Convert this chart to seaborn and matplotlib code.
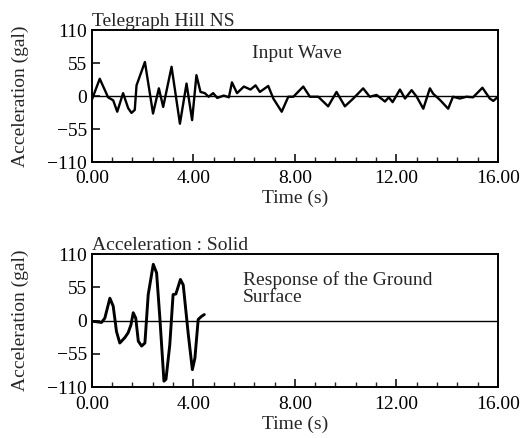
import numpy as np
import pandas as pd
import seaborn as sb
import matplotlib
matplotlib.use("Agg")
import matplotlib.pyplot as plt
from matplotlib.ticker import MultipleLocator

# input wave (Telegraph Hill NS)
t_input = [0.00, 0.31, 0.64, 0.84, 1.00, 1.23, 1.43, 1.56, 1.69, 1.76, 2.09, 2.41, 2.64, 2.81,
           3.14, 3.47, 3.73, 3.95, 4.12, 4.28, 4.45, 4.60, 4.78, 4.94, 5.20, 5.40, 5.52, 5.72,
           5.99, 6.25, 6.45, 6.62, 6.95, 7.15, 7.48, 7.74, 7.94, 8.33, 8.59, 8.92, 9.31, 9.64,
           9.97, 10.30, 10.69, 10.95, 11.22, 11.55, 11.70, 11.85, 12.14, 12.34, 12.60, 12.80,
           13.06, 13.32, 13.45, 13.71, 14.04, 14.23, 14.50, 14.76, 15.02, 15.39, 15.68, 15.82,
           16.00]
a_input = [-6, 29, -2, -7, -26, 5, -20, -28, -23, 18, 57, -29, 13, -18,
           49, -46, 21, -40, 35, 7, 5, -1, 5, -3, 1, -2, 23, 5,
           16, 11, 18, 7, 17, -4, -26, -1, -1, 16, -1, -1, -17, 7,
           -17, -4, 13, -1, 2, -9, -2, -10, 11, -4, 10, -1,
           -21, 13, 4, -6, -21, -1, -4, -1, -2, 14, -4, -8,
           -1]

# response of the ground surface
t_resp = [0.00, 0.20, 0.38, 0.51, 0.71, 0.84, 0.97, 1.10, 1.30, 1.43, 1.54, 1.63, 1.73, 1.83,
          1.96, 2.09, 2.22, 2.42, 2.55, 2.68, 2.84, 2.92, 3.07, 3.20, 3.31, 3.49, 3.60, 3.80,
          3.96, 4.06, 4.19, 4.32, 4.43]
a_resp = [-1, -2, -3, 4, 37, 24, -18, -37, -28, -20, -7, 13, 4, -34,
          -42, -37, 43, 93, 79, 4, -100, -97, -40, 43, 44, 68, 59, -23,
          -81, -62, 2, 7, 10]

x_ticks = [0, 4, 8, 12, 16]
x_labels = ["0.00", "4.00", "8.00", "12.00", "16.00"]
y_ticks = [110, 55, 0, -55, -110]
y_labels = ["110", "55", "0", "\u221255", "\u2212110"]

sb.set_style("ticks")
plt.rcParams['font.family'] = ['Liberation Serif', 'DejaVu Serif']

fig = plt.figure(figsize=(5.28, 4.38), dpi=100)
ax1 = fig.add_axes([0.174, 0.630, 0.769, 0.301])
ax2 = fig.add_axes([0.174, 0.116, 0.769, 0.304])

df1 = pd.DataFrame({"t": t_input, "a": a_input})
df2 = pd.DataFrame({"t": t_resp, "a": a_resp})

sb.lineplot(data=df1, x="t", y="a", ax=ax1, color="black", lw=1.7)
sb.lineplot(data=df2, x="t", y="a", ax=ax2, color="black", lw=2.1)

for ax in (ax1, ax2):
    ax.axhline(0, color="black", lw=1.0, zorder=1)
    ax.set_xlim(0, 16)
    ax.set_ylim(-110, 110)
    ax.set_xticks(x_ticks)
    ax.set_xticklabels(x_labels)
    ax.set_yticks(y_ticks)
    ax.set_yticklabels(y_labels)
    ax.xaxis.set_minor_locator(MultipleLocator(0.8))
    ax.tick_params(axis="both", which="major", direction="in", length=6, width=1.1,
                   labelsize=14, colors="black")
    ax.tick_params(axis="x", which="major", pad=6)
    ax.tick_params(axis="y", which="major", pad=3.5)
    ax.tick_params(axis="x", which="minor", direction="in", length=3.5, width=1.0)
    for s in ax.spines.values():
        s.set_linewidth(1.4)
        s.set_color("black")
    ax.set_xlabel("Time (s)", fontsize=14, labelpad=2)
    ax.set_ylabel("Acceleration (gal)", fontsize=14, labelpad=13)

ax1.set_title("Telegraph Hill NS", loc="left", fontsize=14, pad=3)
ax2.set_title("Acceleration : Solid", loc="left", fontsize=14, pad=3)
ax1.text(6.3, 71, "Input Wave", fontsize=14, va="center", ha="left")
ax2.text(5.95, 53, "Response of the Ground\nSurface", fontsize=14, va="center", ha="left",
         linespacing=1.0)

fig.savefig("out.png", dpi=100)
